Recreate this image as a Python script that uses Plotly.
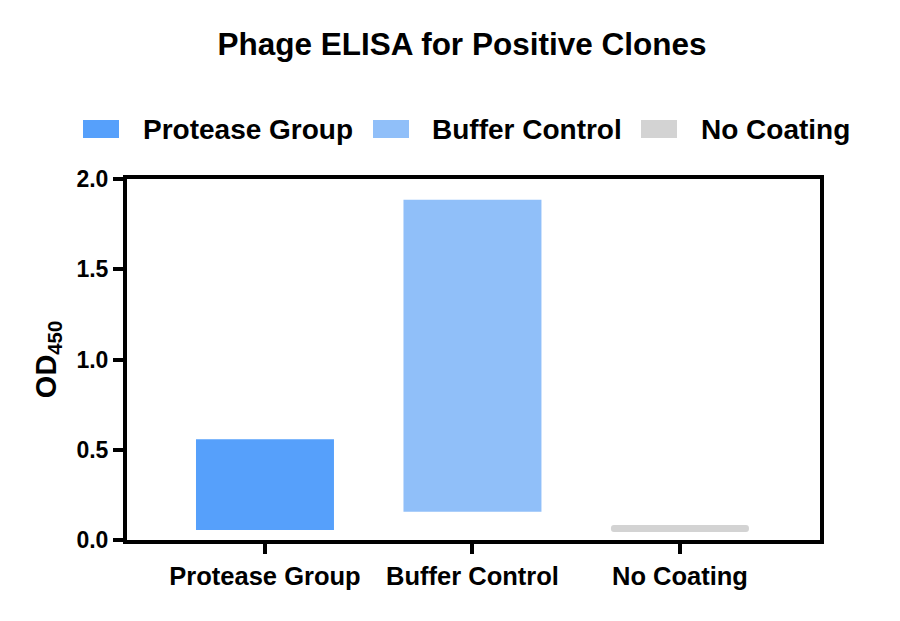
import plotly.graph_objects as go

# floating bars: OD450 low/high per group
GROUPS = ['Protease Group', 'Buffer Control', 'No Coating']
OD_LOW = [0.055, 0.157, 0.045]
OD_HIGH = [0.558, 1.885, 0.083]
COLORS = ['#56a0fb', '#90bff9', '#d3d3d3']
Y_TICKS = [0.0, 0.5, 1.0, 1.5, 2.0]

FONT = 'Arial, Liberation Sans, sans-serif'
W, H = 900, 621
OFF = 8  # page body margin
ML, MT = 127 - OFF, 179 - OFF
MR, MB = W - (820 - OFF), H - (540 - OFF)


def px_x(x):
    # screen px -> paper
    return (x - OFF - ML) / (W - ML - MR)


def px_y(y):
    return (H - MB - (y - OFF)) / (H - MT - MB)


fig = go.Figure()
for i, g in enumerate(GROUPS):
    fig.add_trace(go.Bar(
        x=[g], y=[OD_HIGH[i] - OD_LOW[i]], base=[OD_LOW[i]],
        name=g, width=0.665, showlegend=False,
        marker=dict(color=COLORS[i], line_width=0,
                    cornerradius=4 if g == 'No Coating' else 0),
    ))

# legend drawn by hand (wide swatches)
legend_pos = [(83, 141), (373, 430), (641, 699)]
for (sx, tx), g, c in zip(legend_pos, GROUPS, COLORS):
    fig.add_shape(type='rect', xref='paper', yref='paper',
                  x0=px_x(sx), x1=px_x(sx + 36), y0=px_y(138), y1=px_y(120),
                  fillcolor=c, line_width=0)
    fig.add_annotation(text=g, xref='paper', yref='paper', x=px_x(tx), y=px_y(129),
                       xanchor='left', yanchor='middle', showarrow=False,
                       font=dict(family=FONT, size=28, color='black', weight='bold'))

fig.update_layout(
    width=W, height=H,
    margin=dict(l=ML, r=MR, t=MT, b=MB),
    plot_bgcolor='white', paper_bgcolor='white',
    barmode='overlay',
    title=dict(text='Phage ELISA for Positive Clones', x=(462 - OFF) / W, xref='container', xanchor='center',
               y=1 - (44 - OFF) / H, yref='container', yanchor='middle',
               font=dict(family=FONT, size=31.5, color='black', weight='bold')),
    font=dict(family=FONT, color='black'),
)
fig.update_xaxes(
    range=[-0.665, 2.675], showline=True, linewidth=4, linecolor='black', mirror=True,
    ticks='outside', ticklen=10, tickwidth=4, tickcolor='black', showgrid=False,
    tickfont=dict(family=FONT, size=25.5, color='black', weight='bold'),
)
fig.update_yaxes(
    range=[0, 2.0], tickvals=Y_TICKS, ticktext=[f'{v:.1f}' for v in Y_TICKS],
    showline=True, linewidth=4, linecolor='black', mirror=True,
    ticks='outside', ticklen=10, tickwidth=4, tickcolor='black', showgrid=False, zeroline=False,
    tickfont=dict(family=FONT, size=23, color='black', weight='bold'),
    title=dict(text='OD<sub>450</sub>', standoff=12,
               font=dict(family=FONT, size=29, color='black', weight='bold')),
)

fig.write_html('out.html')
